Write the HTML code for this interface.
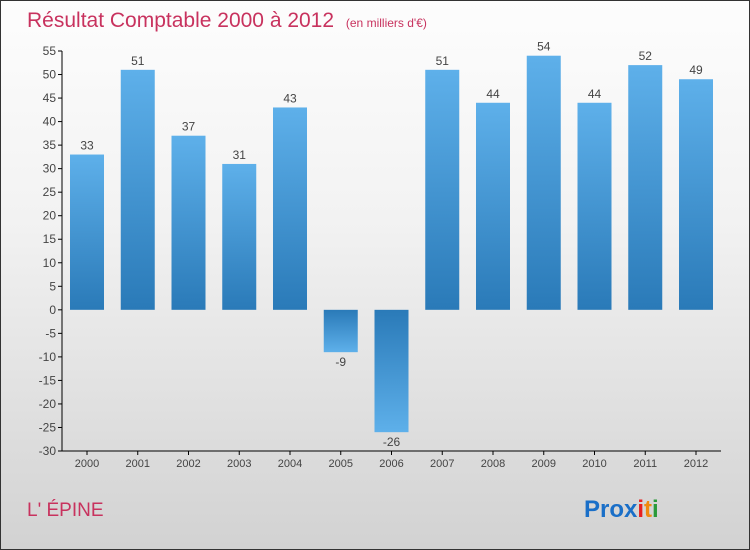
<!DOCTYPE html>
<html><head><meta charset="utf-8"><style>
body{margin:0}
#c{width:748px;height:548px;border:1px solid #333;background:linear-gradient(#fdfdfd,#f2f2f2 40%,#d2d2d2);position:relative;font-family:"Liberation Sans",sans-serif;overflow:hidden}
</style></head><body>
<div id="c">
<svg width="748" height="548" id="s">
<defs>
<linearGradient id="gp" x1="0" y1="0" x2="0" y2="1"><stop offset="0" stop-color="#5eb0ea"/><stop offset="1" stop-color="#2a7ab8"/></linearGradient>
<linearGradient id="gn" x1="0" y1="0" x2="0" y2="1"><stop offset="0" stop-color="#2a7ab8"/><stop offset="1" stop-color="#5eb0ea"/></linearGradient>
</defs>
<text x="26" y="26" font-size="21" fill="#c8325e">Résultat Comptable 2000 à 2012 <tspan font-size="12" dx="6">(en milliers d'€)</tspan></text>
<text x="26" y="515" font-size="19" fill="#c8325e">L' ÉPINE</text>
<g font-size="24" font-weight="bold">
<text x="583" y="516"><tspan fill="#1a6fc8">Pro</tspan><tspan fill="#1a6fc8">x</tspan><tspan fill="#e82020">i</tspan><tspan fill="#f08a10">t</tspan><tspan fill="#2a9a3a">i</tspan></text>
</g>
<g id="g"></g>
</svg>
</div>
<script>
const years=["2000","2001","2002","2003","2004","2005","2006","2007","2008","2009","2010","2011","2012"];
const values=[33,51,37,31,43,-9,-26,51,44,54,44,52,49];
const ticks=[55,50,45,40,35,30,25,20,15,10,5,0,-5,-10,-15,-20,-25,-30];
const NS="http://www.w3.org/2000/svg";
const g=document.getElementById('g');
const y=v=>50+(55-v)*400/85;
const x=i=>86+i*50.75;
function mk(t,a){const e=document.createElementNS(NS,t);for(const k in a)e.setAttribute(k,a[k]);g.appendChild(e);return e;}
let ax=mk('line',{x1:61,x2:61,y1:50,y2:450,stroke:'#000'});


let bx=mk('line',{x1:61,x2:720,y1:450,y2:450,stroke:'#000'});


ticks.forEach(t=>{
 let l=mk('line',{x1:57,x2:61,y1:y(t),y2:y(t),stroke:'#000'});
 
 
 let tx=mk('text',{x:55,y:y(t)+4,'text-anchor':'end','font-size':12,fill:'#444'});
 tx.textContent=t;
 
 
});
years.forEach((yr,i)=>{
 const v=values[i];
 const top=Math.min(y(v),y(0)),h=Math.abs(y(v)-y(0));
 let r=mk('rect',{x:x(i)-17,y:top,width:34,height:h,fill:v>=0?'url(#gp)':'url(#gn)'});
 
 
 let vl=mk('text',{x:x(i),y:v>=0?y(v)-5:y(v)+14,'text-anchor':'middle','font-size':12,fill:'#444'});
 vl.textContent=v;
 
 
 let xt=mk('line',{x1:x(i),x2:x(i),y1:450,y2:454,stroke:'#000'});
 
 
 let xl=mk('text',{x:x(i),y:466,'text-anchor':'middle','font-size':11,fill:'#444'});
 xl.textContent=yr;
 
 
});
</script>
</body></html>
